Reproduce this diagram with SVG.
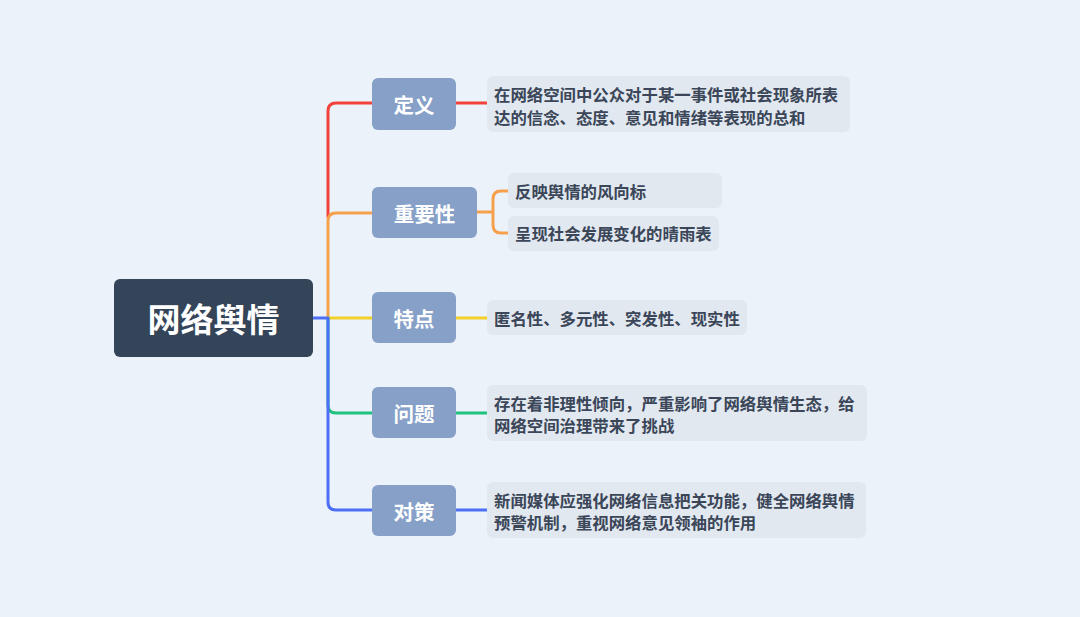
<svg xmlns="http://www.w3.org/2000/svg" width="1080" height="617" viewBox="0 0 1080 617">
<style>
.root{fill:#344459}
.l1{fill:#86A0C8}
.leaf{fill:#E1E8F0}
.t-root{font-family:"Noto Sans CJK SC","Noto Sans",sans-serif;font-weight:bold;font-size:33px;fill:#FFFFFF;text-anchor:middle;dominant-baseline:central}
.t-l1{font-family:"Noto Sans CJK SC","Noto Sans",sans-serif;font-weight:bold;font-size:20.5px;fill:#FFFFFF;text-anchor:middle;dominant-baseline:central}
.t-leaf{font-family:"Noto Sans CJK SC","Noto Sans",sans-serif;font-weight:bold;font-size:16.4px;fill:#3B4658;dominant-baseline:central}
.c{fill:none;stroke-width:3;stroke-linecap:round;stroke-linejoin:round}
</style>
<rect width="1080" height="617" fill="#ECF2F9"/>
<g id="connectors">
<path class="c" stroke="#F2423B" d="M328,217 V111 Q328,103 336,103 H372"/>
<path class="c" stroke="#F6A04C" d="M328,318 V221 Q328,213 336,213 H372"/>
<path class="c" stroke="#F4D02A" d="M328,318 H372"/>
<path class="c" stroke="#1FC17F" d="M328,318 V405 Q328,413 336,413 H372"/>
<path class="c" stroke="#4D6EF6" d="M313,318 H328 V502 Q328,510 336,510 H372"/>
<path class="c" stroke="#F2423B" stroke-width="2" d="M456,103 H487"/>
<path class="c" stroke="#F6A04C" stroke-width="2" d="M477,212 H492 M507,191 H501 Q493,191 493,199 V225 Q493,233 501,233 H507"/>
<path class="c" stroke="#F4D02A" stroke-width="2" d="M456,318 H487"/>
<path class="c" stroke="#1FC17F" stroke-width="2" d="M456,413 H487"/>
<path class="c" stroke="#4D6EF6" stroke-width="2" d="M456,510 H487"/>
</g>
<g id="root">
<rect class="root" x="114" y="279" width="199" height="78" rx="6"/>
<text class="t-root" x="213.5" y="318">网络舆情</text>
</g>
<g id="n-def">
<rect class="l1" x="372" y="78" width="84" height="52" rx="6"/>
<text class="t-l1" x="414" y="104">定义</text>
</g>
<g id="n-imp">
<rect class="l1" x="372" y="187" width="105" height="51" rx="6"/>
<text class="t-l1" x="424.5" y="212.5">重要性</text>
</g>
<g id="n-feat">
<rect class="l1" x="372" y="292" width="84" height="51" rx="6"/>
<text class="t-l1" x="414" y="318">特点</text>
</g>
<g id="n-prob">
<rect class="l1" x="372" y="387" width="84" height="51" rx="6"/>
<text class="t-l1" x="414" y="413">问题</text>
</g>
<g id="n-sol">
<rect class="l1" x="372" y="485" width="84" height="51" rx="6"/>
<text class="t-l1" x="414" y="510.5">对策</text>
</g>
<g id="leaf-def">
<rect class="leaf" x="487" y="76" width="363" height="56" rx="6"/>
<text class="t-leaf" x="494" y="94">在网络空间中公众对于某一事件或社会现象所表</text>
<text class="t-leaf" x="494" y="117">达的信念、态度、意见和情绪等表现的总和</text>
</g>
<g id="leaf-imp1">
<rect class="leaf" x="508" y="173" width="214" height="35" rx="6"/>
<text class="t-leaf" x="515" y="191">反映舆情的风向标</text>
</g>
<g id="leaf-imp2">
<rect class="leaf" x="508" y="216" width="211" height="35" rx="6"/>
<text class="t-leaf" x="515" y="233">呈现社会发展变化的晴雨表</text>
</g>
<g id="leaf-feat">
<rect class="leaf" x="487" y="300" width="260" height="35" rx="6"/>
<text class="t-leaf" x="494" y="318">匿名性、多元性、突发性、现实性</text>
</g>
<g id="leaf-prob">
<rect class="leaf" x="487" y="385" width="380" height="56" rx="6"/>
<text class="t-leaf" x="494" y="403">存在着非理性倾向，严重影响了网络舆情生态，给</text>
<text class="t-leaf" x="494" y="425">网络空间治理带来了挑战</text>
</g>
<g id="leaf-sol">
<rect class="leaf" x="487" y="482" width="379" height="56" rx="6"/>
<text class="t-leaf" x="494" y="500">新闻媒体应强化网络信息把关功能，健全网络舆情</text>
<text class="t-leaf" x="494" y="522">预警机制，重视网络意见领袖的作用</text>
</g>
</svg>
